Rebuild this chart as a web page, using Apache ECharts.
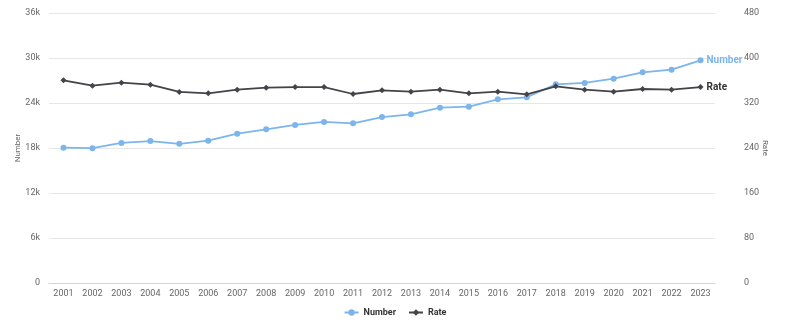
<!DOCTYPE html>
<html>
<head>
<meta charset="utf-8">
<script src="https://cdn.jsdelivr.net/npm/echarts@6/dist/echarts.min.js"></script>
<style>
html,body{margin:0;padding:0;background:#fff;}
#c{width:790px;height:328px;}
</style>
</head>
<body>
<div id="c"></div>
<script>
const years = ['2001','2002','2003','2004','2005','2006','2007','2008','2009','2010','2011','2012','2013','2014','2015','2016','2017','2018','2019','2020','2021','2022','2023'];
const numberValues = [18050,17980,18670,18930,18560,18970,19910,20490,21070,21470,21290,22130,22490,23380,23510,24490,24760,26490,26670,27240,28090,28440,29690];
const rateValues = [360.3,350.8,356.1,352.6,339.6,337.2,343.7,347.3,348.4,348.4,336.0,342.5,340.1,343.7,337.2,340.1,335.4,349.6,343.7,340.1,344.9,343.7,348.4];
const leftTicks = [0, 6000, 12000, 18000, 24000, 30000, 36000];
const rightTicks = [0, 80, 160, 240, 320, 400, 480];

const chart = echarts.init(document.getElementById('c'), null, {renderer:'canvas'});
const labelFont = {color:'#666', fontSize:9, fontFamily:'Roboto, Arial, sans-serif'};
chart.setOption({
  animation:false,
  grid:{left:49, right:75, top:13, bottom:45},
  legend:{
    bottom:6, left:'center', itemGap:12, itemWidth:14, itemHeight:8,
    textStyle:{color:'#333', fontSize:9, fontWeight:'bold', fontFamily:'Roboto, Arial, sans-serif'},
    data:['Number','Rate']
  },
  xAxis:{
    type:'category', data:years, boundaryGap:true,
    axisLine:{lineStyle:{color:'#ccd6eb', width:1}},
    axisTick:{show:false},
    axisLabel:Object.assign({margin:6, interval:0}, labelFont)
  },
  yAxis:[
    {
      type:'value', min:leftTicks[0], max:leftTicks[leftTicks.length-1], interval:6000,
      name:'Number', nameLocation:'middle', nameGap:27, nameRotate:90, nameMoveOverlap:false,
      nameTextStyle:{color:'#666', fontSize:8, fontFamily:'Roboto, Arial, sans-serif'},
      axisLabel:Object.assign({margin:9, formatter:v=> v===0 ? '0' : (v/1000)+'k'}, labelFont),
      splitLine:{lineStyle:{color:'#e6e6e6', width:1}},
      axisLine:{show:false}, axisTick:{show:false}
    },
    {
      type:'value', min:rightTicks[0], max:rightTicks[rightTicks.length-1], interval:80,
      name:'Rate', nameLocation:'middle', nameGap:46, nameRotate:-90, nameMoveOverlap:false,
      nameTextStyle:{color:'#666', fontSize:8, fontFamily:'Roboto, Arial, sans-serif'},
      axisLabel:Object.assign({margin:29}, labelFont),
      splitLine:{show:false},
      axisLine:{show:false}, axisTick:{show:false}
    }
  ],
  series:[
    {
      name:'Number', type:'line', yAxisIndex:0, data:numberValues,
      symbol:'circle', symbolSize:6,
      itemStyle:{color:'#7cb5ec'}, lineStyle:{color:'#7cb5ec', width:1.8},
      endLabel:{show:true, formatter:'{a}', color:'#7cb5ec', fontWeight:'bold', fontSize:10, distance:6, fontFamily:'Roboto, Arial, sans-serif'}
    },
    {
      name:'Rate', type:'line', yAxisIndex:1, data:rateValues,
      symbol:'diamond', symbolSize:6,
      itemStyle:{color:'#434348'}, lineStyle:{color:'#434348', width:1.8},
      endLabel:{show:true, formatter:'{a}', color:'#333', fontWeight:'bold', fontSize:10, distance:6, fontFamily:'Roboto, Arial, sans-serif'}
    }
  ]
});
</script>
</body>
</html>
